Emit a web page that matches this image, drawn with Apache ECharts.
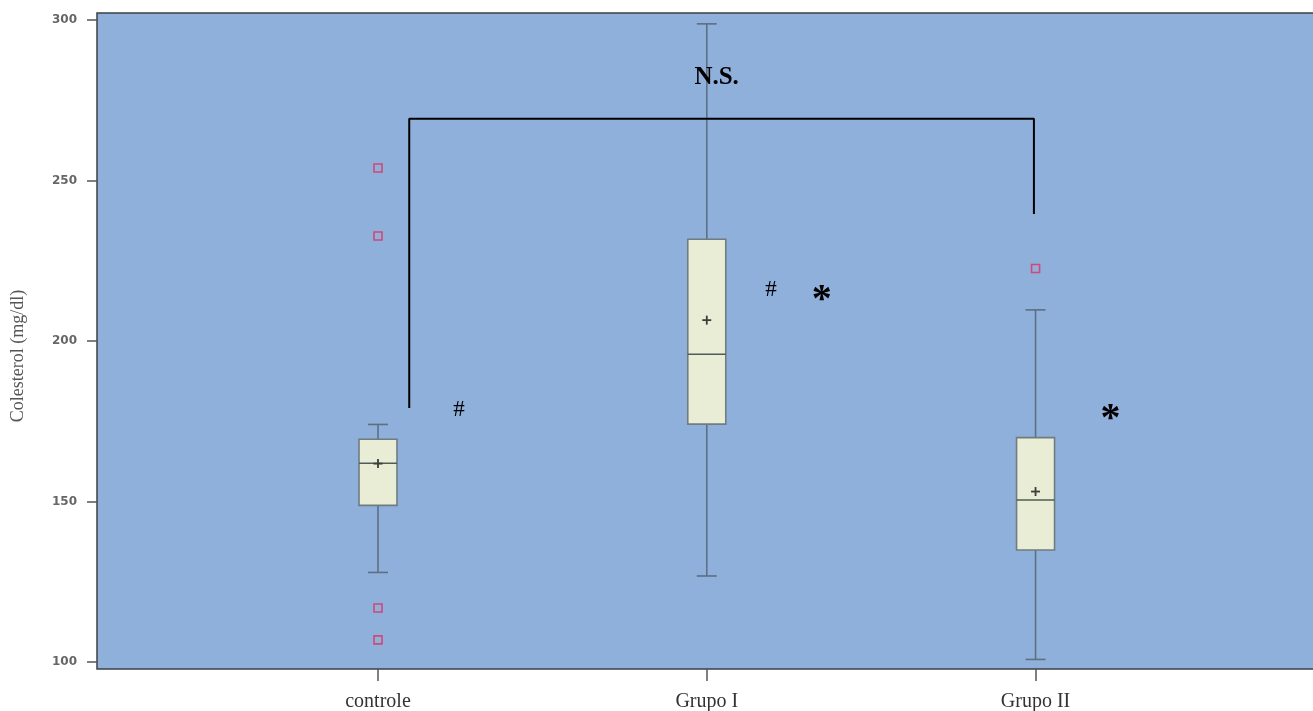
<!DOCTYPE html>
<html>
<head>
<meta charset="utf-8">
<script src="https://cdn.jsdelivr.net/npm/echarts@6/dist/echarts.min.js"></script>
<style>html,body{margin:0;padding:0;background:#fff}#c{width:1313px;height:711px}</style>
</head>
<body>
<div id="c"></div>
<script>
const categories = ['controle', 'Grupo I', 'Grupo II'];
const whiskerLow = [127.9, 126.8, 100.8];
const q1 = [148.8, 174.1, 134.9];
const median = [161.9, 195.9, 150.5];
const q3 = [169.4, 231.7, 169.9];
const whiskerHigh = [174.0, 298.8, 209.7];
const means = [161.8, 206.5, 153.1];
const outliers = [[1, 253.9], [1, 232.7], [1, 116.8], [1, 106.9], [3, 222.6]];
const yTicks = [100, 150, 200, 250, 300];
const bracket = [[1.095, 179.1], [1.095, 269.2], [2.995, 269.2], [2.995, 239.6]];
const annotations = [
  {text: 'N.S.', x: 2.03, y: 282.0, kind: 'ns'},
  {text: '#', x: 1.246, y: 178.5, kind: 'hash'},
  {text: '#', x: 2.195, y: 215.9, kind: 'hash'},
  {text: '*', x: 2.35, y: 215.0, kind: 'star'},
  {text: '*', x: 3.228, y: 177.9, kind: 'star'}
];

const boxData = categories.map((c, i) => [i + 1, whiskerLow[i], q1[i], median[i], q3[i], whiskerHigh[i]]);
const meanData = categories.map((c, i) => [i + 1, means[i]]);

const chart = echarts.init(document.getElementById('c'));
chart.setOption({
  animation: false,
  grid: {left: 97, top: 13, bottom: 42, right: -3, outerBoundsMode: 'none', containLabel: false, show: true, backgroundColor: '#8FB0DA', borderColor: '#3c3f44', borderWidth: 1.5},
  xAxis: {
    type: 'value', min: 0.1453, max: 3.853,
    splitLine: {show: false},
    axisLine: {show: false},
    axisTick: {show: true, length: 12, lineStyle: {color: '#555', width: 1.5}, customValues: [1, 2, 3]},
    axisLabel: {
      customValues: [1, 2, 3], margin: 23,
      formatter: v => categories[Math.round(v) - 1] || '',
      fontFamily: 'Liberation Serif', fontSize: 20, color: '#333'
    }
  },
  yAxis: {
    type: 'value', min: 97.82, max: 302.18,
    name: 'Colesterol (mg/dl)', nameLocation: 'middle', nameGap: 70,
    nameTextStyle: {fontFamily: 'Liberation Serif', fontSize: 18, color: '#555', padding: [0, 30, 0, 0]},
    splitLine: {show: false},
    axisLine: {show: false},
    axisTick: {show: true, length: 10, lineStyle: {color: '#555', width: 1.5}, customValues: yTicks},
    axisLabel: {customValues: yTicks, margin: 20, fontFamily: 'DejaVu Sans', fontWeight: 'bold', fontSize: 12, color: '#666'}
  },
  series: [
    {
      type: 'custom',
      data: boxData,
      renderItem: function (params, api) {
        const x = api.value(0);
        const lo = api.coord([x, api.value(1)]);
        const b1 = api.coord([x, api.value(2)]);
        const md = api.coord([x, api.value(3)]);
        const b3 = api.coord([x, api.value(4)]);
        const hi = api.coord([x, api.value(5)]);
        const hw = 19, cw = 10;
        const cx = lo[0];
        const wl = {stroke: '#5d6f82', lineWidth: 1.6};
        return {
          type: 'group',
          children: [
            {type: 'line', shape: {x1: cx, y1: hi[1], x2: cx, y2: b3[1]}, style: wl},
            {type: 'line', shape: {x1: cx, y1: b1[1], x2: cx, y2: lo[1]}, style: wl},
            {type: 'line', shape: {x1: cx - cw, y1: hi[1], x2: cx + cw, y2: hi[1]}, style: wl},
            {type: 'line', shape: {x1: cx - cw, y1: lo[1], x2: cx + cw, y2: lo[1]}, style: wl},
            {type: 'rect', shape: {x: cx - hw, y: b3[1], width: 2 * hw, height: b1[1] - b3[1]}, style: {fill: '#E9EDD6', stroke: '#6f7c80', lineWidth: 1.6}},
            {type: 'line', shape: {x1: cx - hw, y1: md[1], x2: cx + hw, y2: md[1]}, style: {stroke: '#4f5c55', lineWidth: 1.5}}
          ]
        };
      },
      z: 2
    },
    {
      type: 'custom',
      data: meanData,
      renderItem: function (params, api) {
        const p = api.coord([api.value(0), api.value(1)]);
        const s = 4.5;
        const st = {stroke: '#3b3f3a', lineWidth: 1.8};
        return {type: 'group', children: [
          {type: 'line', shape: {x1: p[0] - s, y1: p[1], x2: p[0] + s, y2: p[1]}, style: st},
          {type: 'line', shape: {x1: p[0], y1: p[1] - s, x2: p[0], y2: p[1] + s}, style: st}
        ]};
      },
      z: 3
    },
    {
      type: 'scatter',
      data: outliers,
      symbol: 'rect', symbolSize: 8,
      itemStyle: {color: 'rgba(0,0,0,0)', borderColor: '#E0305E', borderWidth: 1.6},
      z: 3
    },
    {
      type: 'line',
      data: bracket,
      symbol: 'none',
      lineStyle: {color: '#000', width: 2},
      z: 4
    },
    {
      type: 'custom',
      data: annotations.map(a => [a.x, a.y, a.text, a.kind]),
      renderItem: function (params, api) {
        const p = api.coord([api.value(0), api.value(1)]);
        const a = annotations[params.dataIndex];
        let font, dy = 0;
        if (a.kind === 'ns') font = 'bold 25px "Liberation Serif"';
        else if (a.kind === 'hash') font = '23px "Liberation Serif"';
        else { font = 'bold 40px "Liberation Serif"'; dy = 8; }
        return {type: 'text', x: p[0], y: p[1] + dy, style: {text: a.text, font: font, fill: '#000', align: 'center', verticalAlign: 'middle'}};
      },
      z: 5
    }
  ]
});
</script>
</body>
</html>
